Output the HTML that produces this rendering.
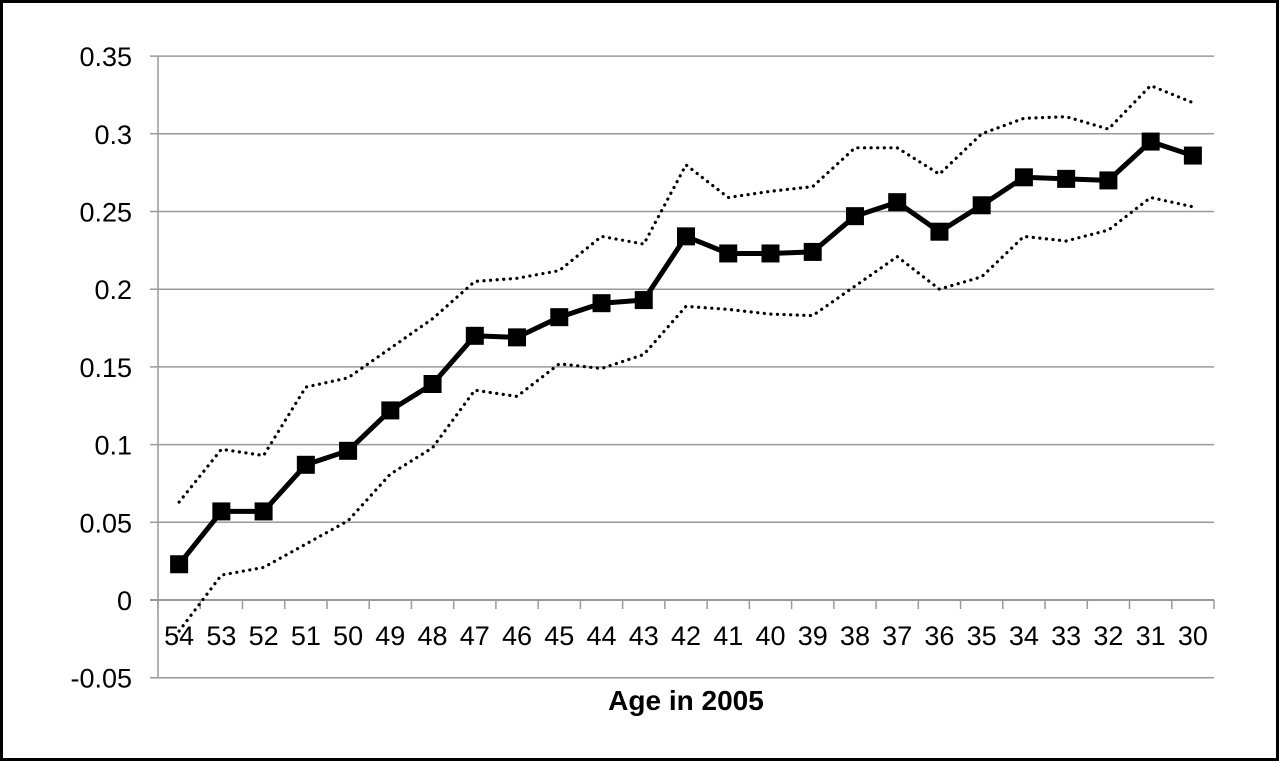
<!DOCTYPE html>
<html><head><meta charset="utf-8"><style>
html,body{margin:0;padding:0;background:#fff}
svg{display:block}
text{font-family:"Liberation Sans",Arial,sans-serif}
</style></head><body>
<svg width="1280" height="761" viewBox="0 0 1280 761" xmlns="http://www.w3.org/2000/svg">
<rect x="1.5" y="1.5" width="1276" height="758" fill="#fff" stroke="#000" stroke-width="3"/>
<g id="grid" stroke="#9a9a9a" stroke-width="1.5"></g>
<g id="ylab" font-size="27" fill="#000" text-anchor="end"></g>
<g id="xlab" font-size="27" fill="#000" text-anchor="middle"></g>
<text x="686" y="710" font-size="28" font-weight="bold" text-anchor="middle">Age in 2005</text>
<g id="series"></g>
</svg>
<script>
const ns="http://www.w3.org/2000/svg";
function el(t,a,p){const e=document.createElementNS(ns,t);for(const k in a)e.setAttribute(k,a[k]);document.getElementById(p).appendChild(e);return e;}
const L=158,R=1214,Y=v=>600-v*1554;
for(let i=-1;i<=7;i++){const v=i*0.05,y=Y(v);
 el('line',{x1:150,x2:R,y1:y,y2:y,stroke:i==0?'#777':'#9a9a9a'},'grid');
 const t=el('text',{x:132,y:y+10},'ylab');t.textContent=(i==0?'0':(Math.round(v*100)/100).toString());}
el('line',{x1:L,x2:L,y1:Y(0.35),y2:Y(-0.05)},'grid');
const n=25,w=(R-L)/n;
for(let i=0;i<=n;i++){el('line',{x1:L+i*w,x2:L+i*w,y1:600,y2:609},'grid');}
const ages=[];for(let a=54;a>=30;a--)ages.push(a);
ages.forEach((a,i)=>{const t=el('text',{x:L+(i+.5)*w,y:645},'xlab');t.textContent=a;});
const m=[0.023,0.057,0.057,0.087,0.096,0.122,0.139,0.170,0.169,0.182,0.191,0.193,0.234,0.223,0.223,0.224,0.247,0.256,0.237,0.254,0.272,0.271,0.270,0.295,0.286];
const u=[0.063,0.097,0.093,0.137,0.143,0.162,0.181,0.205,0.207,0.212,0.234,0.229,0.280,0.259,0.263,0.266,0.291,0.291,0.274,0.300,0.310,0.311,0.303,0.331,0.320];
const lo=[-0.020,0.016,0.021,0.036,0.051,0.081,0.098,0.135,0.131,0.152,0.149,0.158,0.189,0.187,0.184,0.183,0.202,0.221,0.200,0.208,0.234,0.231,0.238,0.259,0.253];
const pts=d=>d.map((v,i)=>(L+(i+.5)*w).toFixed(1)+','+Y(v).toFixed(1)).join(' ');
[u,lo].forEach(d=>el('polyline',{points:pts(d),fill:'none',stroke:'#000','stroke-width':3.2,'stroke-dasharray':'0.1 6.5','stroke-linecap':'round'},'series'));
el('polyline',{points:pts(m),fill:'none',stroke:'#000','stroke-width':5,'stroke-linejoin':'round'},'series');
m.forEach((v,i)=>el('rect',{x:L+(i+.5)*w-9,y:Y(v)-9,width:18,height:18,fill:'#000'},'series'));
</script>
</body></html>
